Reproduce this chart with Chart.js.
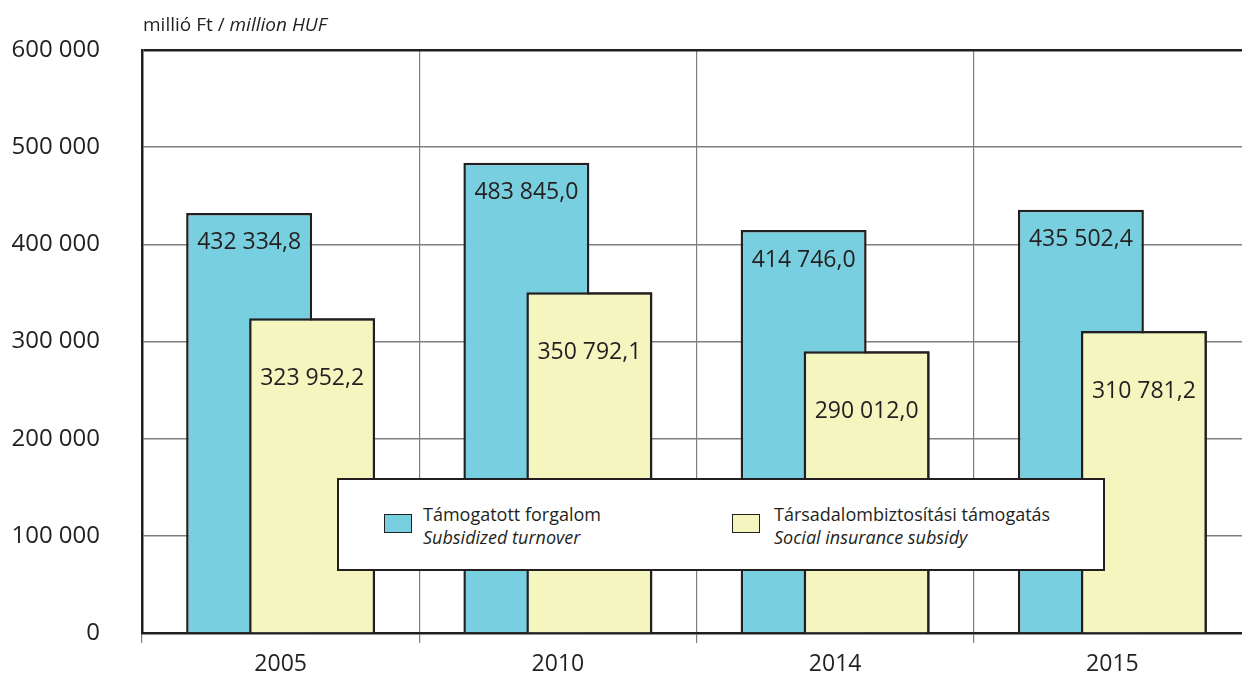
<!DOCTYPE html>
<html>
<head>
<meta charset="utf-8">
<script src="https://cdn.jsdelivr.net/npm/chart.js@4.4.0/dist/chart.umd.min.js"></script>
<style>
  html, body { margin: 0; padding: 0; background: #fff; overflow: hidden; }
  #wrap { position: relative; width: 1252px; height: 682px; }
  #title {
    position: absolute; left: 143px; top: 11px;
    font: 19px "Open Sans", sans-serif; color: #231f20; white-space: nowrap;
  }
  #legend {
    position: absolute; left: 337px; top: 478px; width: 764px; height: 89px;
    border: 2px solid #231f20; background: #fff;
    font: 18px "Open Sans", sans-serif; color: #231f20;
  }
  .item { position: absolute; top: 23px; line-height: 23px; white-space: nowrap; }
  .swatch { position: absolute; top: 11px; width: 26px; height: 17px; border: 1.5px solid #231f20; }
  .item .txt { position: absolute; top: 0; }
</style>
</head>
<body>
<div id="wrap">
  <canvas id="chart"></canvas>
  <div id="title">millió Ft / <i>million HUF</i></div>
  <div id="legend">
    <div class="item" style="left:45px">
      <div class="swatch" style="left:0; background:#78cfdf"></div>
      <div class="txt" style="left:39px">Támogatott forgalom<br><i>Subsidized turnover</i></div>
    </div>
    <div class="item" style="left:393px">
      <div class="swatch" style="left:0; background:#f5f5c0"></div>
      <div class="txt" style="left:42px">Társadalombiztosítási támogatás<br><i>Social insurance subsidy</i></div>
    </div>
  </div>
</div>
<script>
// Data
const years = ['2005', '2010', '2014', '2015'];
const subsidizedTurnover = [432334.8, 483845.0, 414746.0, 435502.4];
const socialInsuranceSubsidy = [323952.2, 350792.1, 290012.0, 310781.2];
const yTicks = [0, 100000, 200000, 300000, 400000, 500000, 600000];

const ink = '#231f20';
Chart.defaults.font.family = '"Open Sans", sans-serif';
Chart.defaults.color = ink;

function huThousands(v) {
    return String(v).replace(/\B(?=(\d{3})+(?!\d))/g, ' ');
}
function huDecimal(v) {
    const parts = v.toFixed(1).split('.');
    return huThousands(parts[0]) + ',' + parts[1];
}

// yellow bars overlap the blue ones, so draw them again on top, then the value labels
const barLabels = {
    id: 'barLabels',
    afterDatasetsDraw(chart) {
        const ctx = chart.ctx;
        chart.getDatasetMeta(1).data.forEach(b => b.draw(ctx));
        ctx.save();
        ctx.font = '23px "Open Sans", sans-serif';
        ctx.fillStyle = ink;
        ctx.textAlign = 'center';
        ctx.textBaseline = 'middle';
        const offsets = [30, 60];
        chart.data.datasets.forEach((ds, i) => {
            chart.getDatasetMeta(i).data.forEach((bar, j) => {
                ctx.fillText(huDecimal(ds.data[j]), bar.x, bar.y + offsets[i]);
            });
        });
        ctx.restore();
    }
};

const ctx = document.getElementById('chart').getContext('2d');
const myChart = new Chart(ctx, {
    type: 'bar',
    data: {
        labels: years,
        datasets: [{
            label: 'Támogatott forgalom',
            data: subsidizedTurnover,
            backgroundColor: '#78cfdf',
            borderColor: ink,
            borderWidth: 2.5,
            borderSkipped: 'bottom',
            categoryPercentage: 0.4544,
            barPercentage: 2
        },
        {
            label: 'Társadalombiztosítási támogatás',
            data: socialInsuranceSubsidy,
            backgroundColor: '#f5f5c0',
            borderColor: ink,
            borderWidth: 2.5,
            borderSkipped: 'bottom',
            categoryPercentage: 0.4544,
            barPercentage: 2
        }]
    },
    options: {
        responsive: true,
        maintainAspectRatio: false,
        animation: false,
        layout: { padding: { top: 50, right: 1, left: 0, bottom: 0 } },
        scales: {
            x: {
                offset: true,
                grid: {
                    offset: true,
                    color: '#7f7f7f',
                    lineWidth: 1.2,
                    tickLength: 10
                },
                border: { color: ink, width: 2.5 },
                ticks: { font: { size: 23 }, padding: 8, color: ink },
                afterFit(scale) { scale.height = 49; }
            },
            y: {
                min: 0,
                max: 600000,
                afterBuildTicks(scale) { scale.ticks = yTicks.map(v => ({ value: v })); },
                grid: {
                    tickLength: 40,
                    tickColor: 'rgba(0,0,0,0)',
                    color: c => c.tick && c.tick.value === 600000 ? ink : '#7f7f7f',
                    lineWidth: c => c.tick && c.tick.value === 600000 ? 2.5 : 1.5
                },
                border: { color: ink, width: 2.5 },
                ticks: {
                    font: { size: 24 },
                    padding: 2,
                    color: ink,
                    callback: v => huThousands(v)
                },
                afterFit(scale) { scale.width = 142; }
            }
        },
        plugins: {
            legend: { display: false },
            tooltip: { enabled: false }
        }
    },
    plugins: [barLabels]
});
</script>
</body>
</html>
